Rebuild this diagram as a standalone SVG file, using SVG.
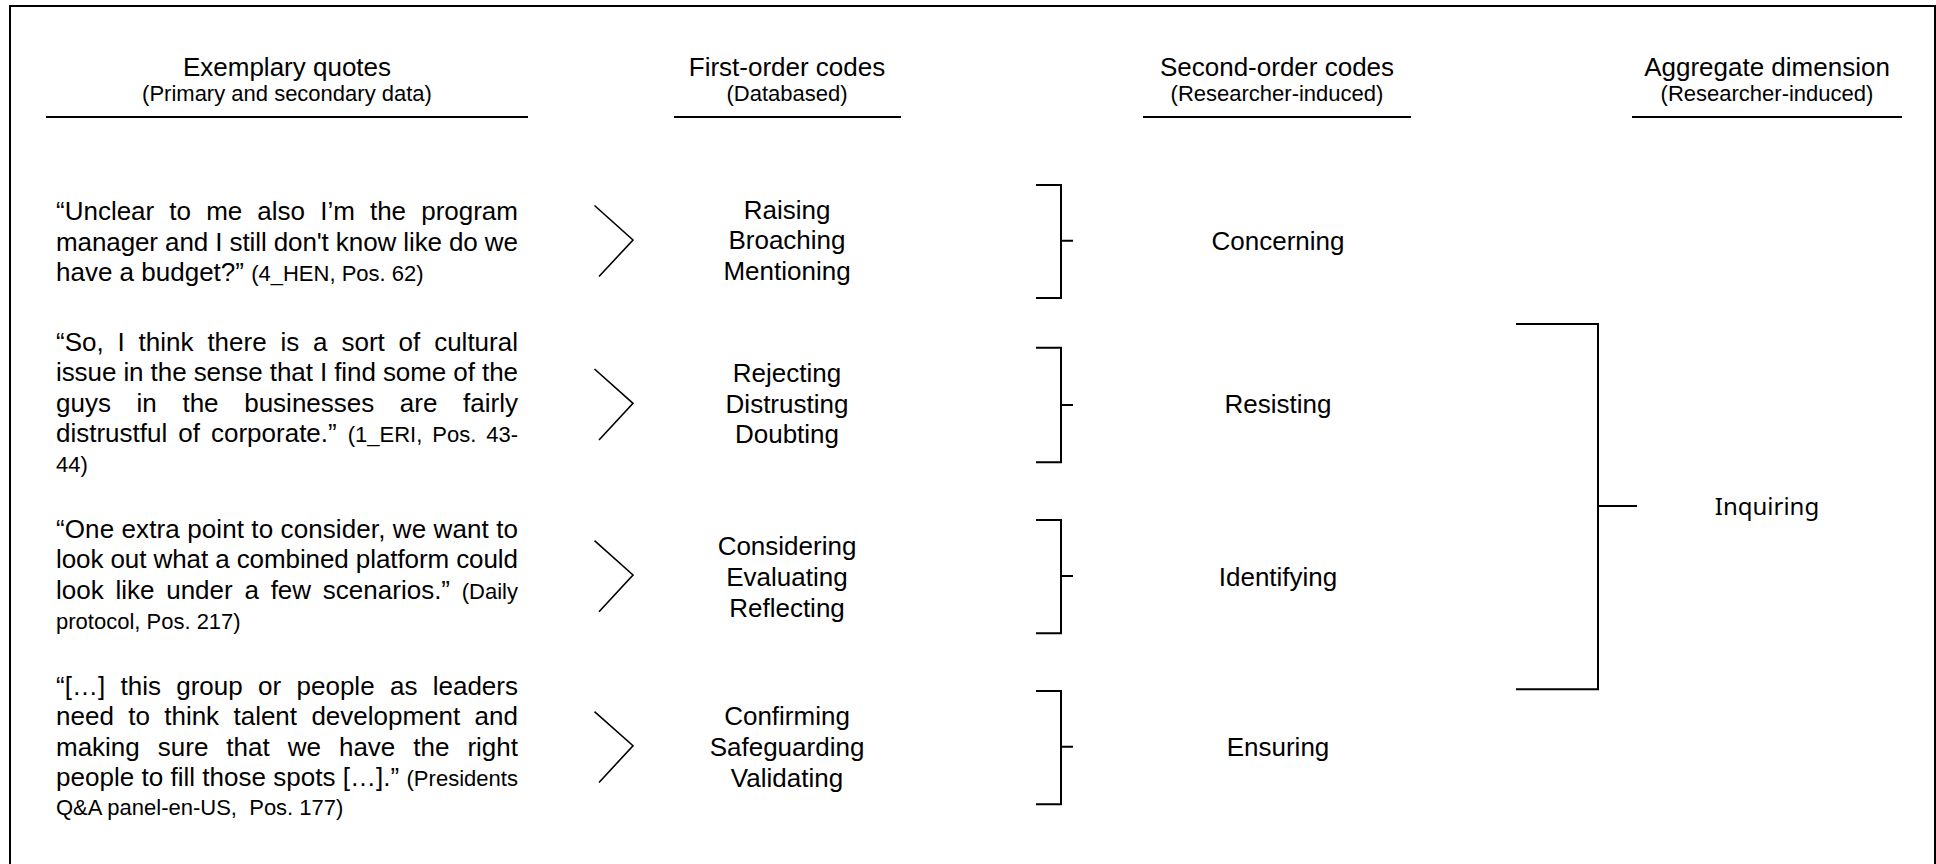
<svg xmlns="http://www.w3.org/2000/svg" width="1936" height="864" viewBox="0 0 1936 864">
  <style>
    text { font-family: "Liberation Sans", Arial, sans-serif; fill: #000; }
    .h { font-size: 26px; text-anchor: middle; }
    .s { font-size: 22px; text-anchor: middle; }
    .q { font-size: 26px; }
    .cite { font-size: 22px; }
    .code { font-size: 26px; text-anchor: middle; }
    .agg { font-family: "Noto Sans", "Open Sans", sans-serif; font-size: 24px; text-anchor: middle; }
    .rule { stroke: #000; stroke-width: 2; fill: none; }
    .chev { stroke: #000; stroke-width: 1.6; fill: none; }
    .brk { stroke: #000; stroke-width: 2; fill: none; }
  </style>

  <rect width="1936" height="864" fill="#fff"/>
  <!-- frame (bottom edge runs off the page) -->
  <path class="rule" d="M10,880 V6 H1935 V880"/>

  <!-- column headers -->
  <g id="header-quotes">
    <text class="h" x="287" y="76">Exemplary quotes</text>
    <text class="s" x="287" y="101">(Primary and secondary data)</text>
    <line class="rule" x1="46" y1="117" x2="528" y2="117"/>
  </g>
  <g id="header-first-order">
    <text class="h" x="787" y="76">First-order codes</text>
    <text class="s" x="787" y="101">(Databased)</text>
    <line class="rule" x1="674" y1="117" x2="901" y2="117"/>
  </g>
  <g id="header-second-order">
    <text class="h" x="1277" y="76">Second-order codes</text>
    <text class="s" x="1277" y="101">(Researcher-induced)</text>
    <line class="rule" x1="1143" y1="117" x2="1411" y2="117"/>
  </g>
  <g id="header-aggregate">
    <text class="h" x="1767" y="76">Aggregate dimension</text>
    <text class="s" x="1767" y="101">(Researcher-induced)</text>
    <line class="rule" x1="1632" y1="117" x2="1902" y2="117"/>
  </g>

  <!-- exemplary quotes (justified block, x 56..518) -->
  <g id="quote-1">
    <text class="q" x="56" y="220" textLength="462" lengthAdjust="spacing" style="word-spacing:7.9px">“Unclear to me also I’m the program</text>
    <text class="q" x="56" y="250.5" textLength="462" lengthAdjust="spacing">manager and I still don't know like do we</text>
    <text class="q" x="56" y="281">have a budget?” <tspan class="cite">(4_HEN, Pos. 62)</tspan></text>
  </g>
  <g id="quote-2">
    <text class="q" x="56" y="350.5" textLength="462" lengthAdjust="spacing" style="word-spacing:6.6px">“So, I think there is a sort of cultural</text>
    <text class="q" x="56" y="381" textLength="462" lengthAdjust="spacing">issue in the sense that I find some of the</text>
    <text class="q" x="56" y="411.5" textLength="462" lengthAdjust="spacing" style="word-spacing:18.4px">guys in the businesses are fairly</text>
    <text class="q" x="56" y="442" textLength="462" lengthAdjust="spacing" style="word-spacing:3.8px">distrustful of corporate.” <tspan class="cite">(1_ERI, Pos. 43-</tspan></text>
    <text class="q" x="56" y="472"><tspan class="cite">44)</tspan></text>
  </g>
  <g id="quote-3">
    <text class="q" x="56" y="537.5" textLength="462" lengthAdjust="spacing">“One extra point to consider, we want to</text>
    <text class="q" x="56" y="568" textLength="462" lengthAdjust="spacing">look out what a combined platform could</text>
    <text class="q" x="56" y="598.5" textLength="462" lengthAdjust="spacing" style="word-spacing:4.5px">look like under a few scenarios.” <tspan class="cite">(Daily</tspan></text>
    <text class="q" x="56" y="628.5"><tspan class="cite">protocol, Pos. 217)</tspan></text>
  </g>
  <g id="quote-4">
    <text class="q" x="56" y="695" textLength="462" lengthAdjust="spacing" style="word-spacing:8.1px">“[…] this group or people as leaders</text>
    <text class="q" x="56" y="725" textLength="462" lengthAdjust="spacing" style="word-spacing:7.1px">need to think talent development and</text>
    <text class="q" x="56" y="755.5" textLength="462" lengthAdjust="spacing" style="word-spacing:10.8px">making sure that we have the right</text>
    <text class="q" x="56" y="785.5" textLength="462" lengthAdjust="spacing">people to fill those spots […].” <tspan class="cite">(Presidents</tspan></text>
    <text class="q" x="56" y="815"><tspan class="cite">Q&amp;A panel-en-US,&#160; Pos. 177)</tspan></text>
  </g>

  <!-- first-order codes -->
  <g id="codes-1">
    <text class="code" x="787" y="218.5">Raising</text>
    <text class="code" x="787" y="249">Broaching</text>
    <text class="code" x="787" y="280">Mentioning</text>
  </g>
  <g id="codes-2">
    <text class="code" x="787" y="381.7">Rejecting</text>
    <text class="code" x="787" y="412.7">Distrusting</text>
    <text class="code" x="787" y="443.3">Doubting</text>
  </g>
  <g id="codes-3">
    <text class="code" x="787" y="555">Considering</text>
    <text class="code" x="787" y="586">Evaluating</text>
    <text class="code" x="787" y="616.7">Reflecting</text>
  </g>
  <g id="codes-4">
    <text class="code" x="787" y="725">Confirming</text>
    <text class="code" x="787" y="756">Safeguarding</text>
    <text class="code" x="787" y="786.7">Validating</text>
  </g>

  <!-- second-order codes -->
  <g id="concerning"><text class="code" x="1278" y="250">Concerning</text></g>
  <g id="resisting"><text class="code" x="1278" y="412.7">Resisting</text></g>
  <g id="identifying"><text class="code" x="1278" y="586">Identifying</text></g>
  <g id="ensuring"><text class="code" x="1278" y="756">Ensuring</text></g>

  <!-- aggregate dimension -->
  <g id="inquiring"><text class="agg" x="1767" y="515">Inquiring</text></g>

  <!-- connectors: chevrons quote → codes, brackets codes → themes → dimension -->
  <g id="connectors">
    <polyline class="chev" points="594.5,205.5 633,240 599,276.5"/>
    <polyline class="chev" points="594.5,369 633,403.3 599,440"/>
    <polyline class="chev" points="594.5,540.7 633,575 599,611.7"/>
    <polyline class="chev" points="594.5,711.7 633,745.7 599,782.5"/>

    <path class="brk" d="M1036,185 H1061 V298 H1036 M1061,240.7 H1073"/>
    <path class="brk" d="M1036,347.7 H1061 V462.3 H1036 M1061,405 H1073"/>
    <path class="brk" d="M1036,520 H1061 V633.3 H1036 M1061,576 H1073"/>
    <path class="brk" d="M1036,691 H1061 V804.3 H1036 M1061,746.7 H1073"/>

    <path class="brk" d="M1516,324 H1598 V689.3 H1516 M1598,506 H1637"/>
  </g>
</svg>
